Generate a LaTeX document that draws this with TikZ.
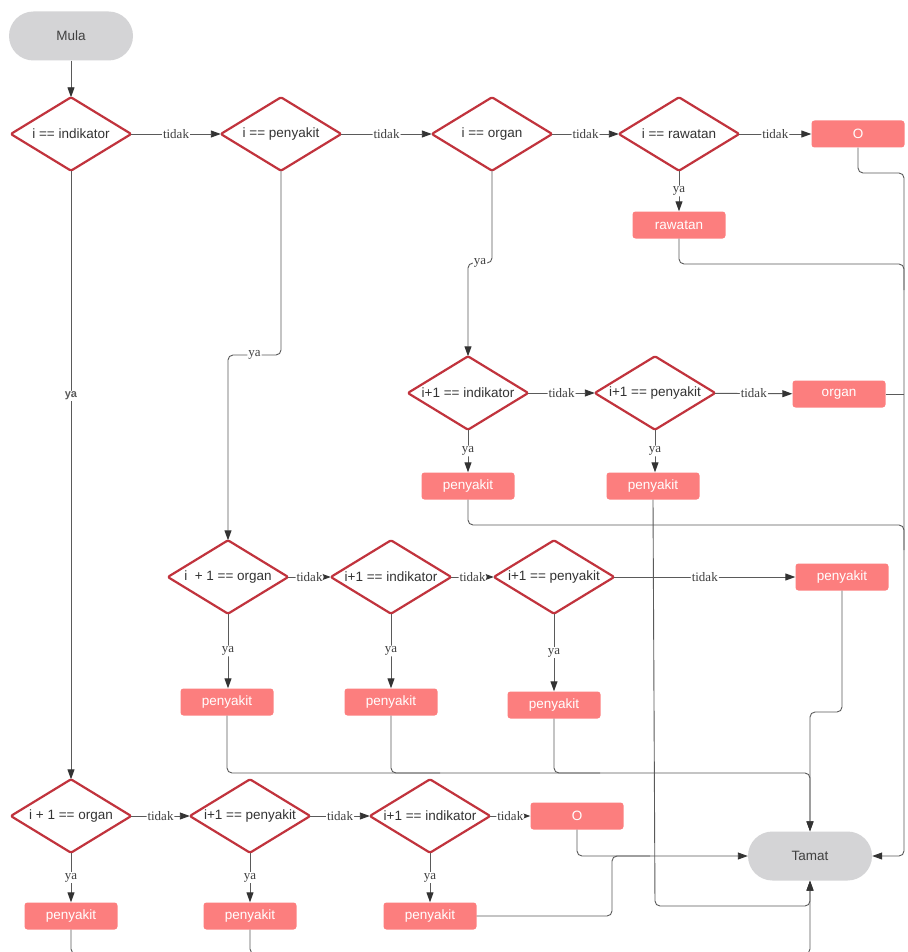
\documentclass[tikz,border=0pt]{standalone}
\usepackage{fontspec}
\setmainfont{Liberation Serif}
\setsansfont{Liberation Sans}
\usetikzlibrary{arrows.meta}
\definecolor{dred}{HTML}{C1333D}
\definecolor{salmon}{HTML}{FC7E7E}
\definecolor{pillg}{HTML}{D4D4D6}
\definecolor{lineg}{HTML}{5A5A5A}
\definecolor{tipg}{HTML}{333333}
\begin{document}
\begin{tikzpicture}[x=1pt,y=-1pt,
  dia/.style={rectangle, minimum width=120pt, minimum height=73pt, inner sep=0pt,
    font=\sffamily\fontsize{13.5}{15}\selectfont, text=black!80},
  box/.style={rectangle, rounded corners=3pt, fill=salmon, minimum width=93pt,
    minimum height=27pt, inner sep=0pt, text=white,
    font=\sffamily\fontsize{13.5}{15}\selectfont},
  term/.style={rectangle, rounded corners=24.5pt, fill=pillg, minimum width=124pt,
    minimum height=49pt, inner sep=0pt, text=black!75,
    font=\sffamily\fontsize{13.5}{15}\selectfont},
  conn/.style={draw=lineg, line width=0.9pt, rounded corners=5pt,
    -{Triangle[length=10pt,width=7pt,color=tipg]}},
  plain/.style={draw=lineg, line width=0.9pt, rounded corners=5pt},
  lbl/.style={fill=white, inner sep=1pt, text=black!75,
    font=\fontsize{13}{15}\selectfont},
  lblb/.style={fill=white, inner sep=1pt, text=black!65,
    font=\sffamily\bfseries\fontsize{11}{13}\selectfont},
  diaedge/.style={draw=dred, line width=2.2pt, line join=round, rounded corners=1.5pt}
]
\fill[white] (0,0) rectangle (907,952);
\useasboundingbox (0,0) rectangle (907,952);

% nodes
\node[term] (mula) at (71,36) {Mula};
\node[dia] (d1) at (71,134) {i == indikator};
\node[dia] (d2) at (281,134) {i == penyakit};
\node[dia] (d3) at (492,134) {i == organ};
\node[dia] (d4) at (679,134) {i == rawatan};
\node[box] (o1) at (858,134) {O};
\node[box] (raw) at (679,225) {rawatan};

\node[dia] (d5) at (468,393) {i+1 == indikator};
\node[dia] (d6) at (655,393) {i+1 == penyakit};
\node[box] (org) at (839,394) {organ};
\node[box] (p5) at (468,486) {penyakit};
\node[box] (p6) at (653,486) {penyakit};

\node[dia] (d7) at (228,577) {i\ \ + 1 == organ};
\node[dia] (d8) at (391,577) {i+1 == indikator};
\node[dia] (d9) at (554,577) {i+1 == penyakit};
\node[box] (p9r) at (842,577) {penyakit};
\node[box] (p7) at (227,702) {penyakit};
\node[box] (p8) at (391,702) {penyakit};
\node[box] (p9) at (554,705) {penyakit};

\node[term] (tamat) at (810,856) {Tamat};

\node[dia] (d10) at (71,816) {i + 1 == organ};
\node[dia] (d11) at (250,816) {i+1 == penyakit};
\node[dia] (d12) at (430,816) {i+1 == indikator};
\node[box] (o2) at (577,816) {O};
\node[box] (p10) at (71,916) {penyakit};
\node[box] (p11) at (250,916) {penyakit};
\node[box] (p12) at (430,916) {penyakit};

% diamond outlines
\foreach \n in {d1,d2,d3,d4,d5,d6,d7,d8,d9,d10,d11,d12}
  \draw[diaedge] (\n.north) -- (\n.east) -- (\n.south) -- (\n.west) -- cycle;

% row 1
\draw[conn] (mula) -- (d1);
\draw[conn] (d1) -- node[lbl]{tidak} (d2);
\draw[conn] (d2) -- node[lbl]{tidak} (d3);
\draw[conn] (d3) -- node[lbl]{tidak} (d4);
\draw[conn] (d4) -- node[lbl]{tidak} (o1);
\draw[conn] (d4) -- node[lbl]{ya} (raw);
\draw[conn] (d1) -- node[lblb, pos=0.37]{ya} (d10);
\draw[conn] (d2.south) -- (281,355) -- node[lbl]{ya} (228,355) -- (d7.north);
\draw[conn] (d3.south) -- (492,263) -- node[lbl]{ya} (468,263) -- (d5.north);

% row 2
\draw[conn] (d5) -- node[lbl]{tidak} (d6);
\draw[conn] (d6) -- node[lbl]{tidak} (org);
\draw[conn] (d5) -- node[lbl]{ya} (p5);
\draw[conn] (d6.south) -- node[lbl]{ya} (d6.south |- p6.north);

% row 3
\draw[conn] (d7) -- node[lbl]{tidak} (d8);
\draw[conn] (d8) -- node[lbl]{tidak} (d9);
\draw[conn] (d9) -- node[lbl]{tidak} (p9r);
\draw[conn] (d7.south) -- node[lbl]{ya} (d7.south |- p7.north);
\draw[conn] (d8) -- node[lbl]{ya} (p8);
\draw[conn] (d9) -- node[lbl]{ya} (p9);

% row 4
\draw[conn] (d10) -- node[lbl]{tidak} (d11);
\draw[conn] (d11) -- node[lbl]{tidak} (d12);
\draw[conn] (d12) -- node[lbl]{tidak} (o2);
\draw[conn] (d10) -- node[lbl]{ya} (p10);
\draw[conn] (d11) -- node[lbl]{ya} (p11);
\draw[conn] (d12) -- node[lbl]{ya} (p12);

% to Tamat (right side)
\draw[conn] (o1.south) -- (858,173) -- (904,173) -- (904,856) -- (tamat.east);
\draw[plain] (raw.south) -- (679,264) -- (904,264) -- (904,290);
\draw[plain] (org.east) -- (904,394);
\draw[plain] (p5.south) -- (468,525) -- (904,525) -- (904,550);

% to Tamat (top)
\draw[conn] (p7.south) -- (227,773) -- (810,773) -- (tamat.north);
\draw[plain] (p8.south) -- (391,773) -- (440,773);
\draw[plain] (p9.south) -- (554,773) -- (600,773);
\draw[conn] (p9r.south) -- (842,712) -- (810,712) -- (tamat.north);

% to Tamat (bottom)
\draw[conn] (p6.south) -- (655,906) -- (810,906) -- (tamat.south);
\draw[conn] (p10.south) -- (71,954) -- (810,954) -- (tamat.south);
\draw[plain] (p11.south) -- (250,954) -- (300,954);

% to Tamat (left)
\draw[conn] (o2.south) -- (577,856) -- (tamat.west);
\draw[plain] (p12.east) -- (612,916) -- (612,856) -- (650,856);
\end{tikzpicture}
\end{document}
